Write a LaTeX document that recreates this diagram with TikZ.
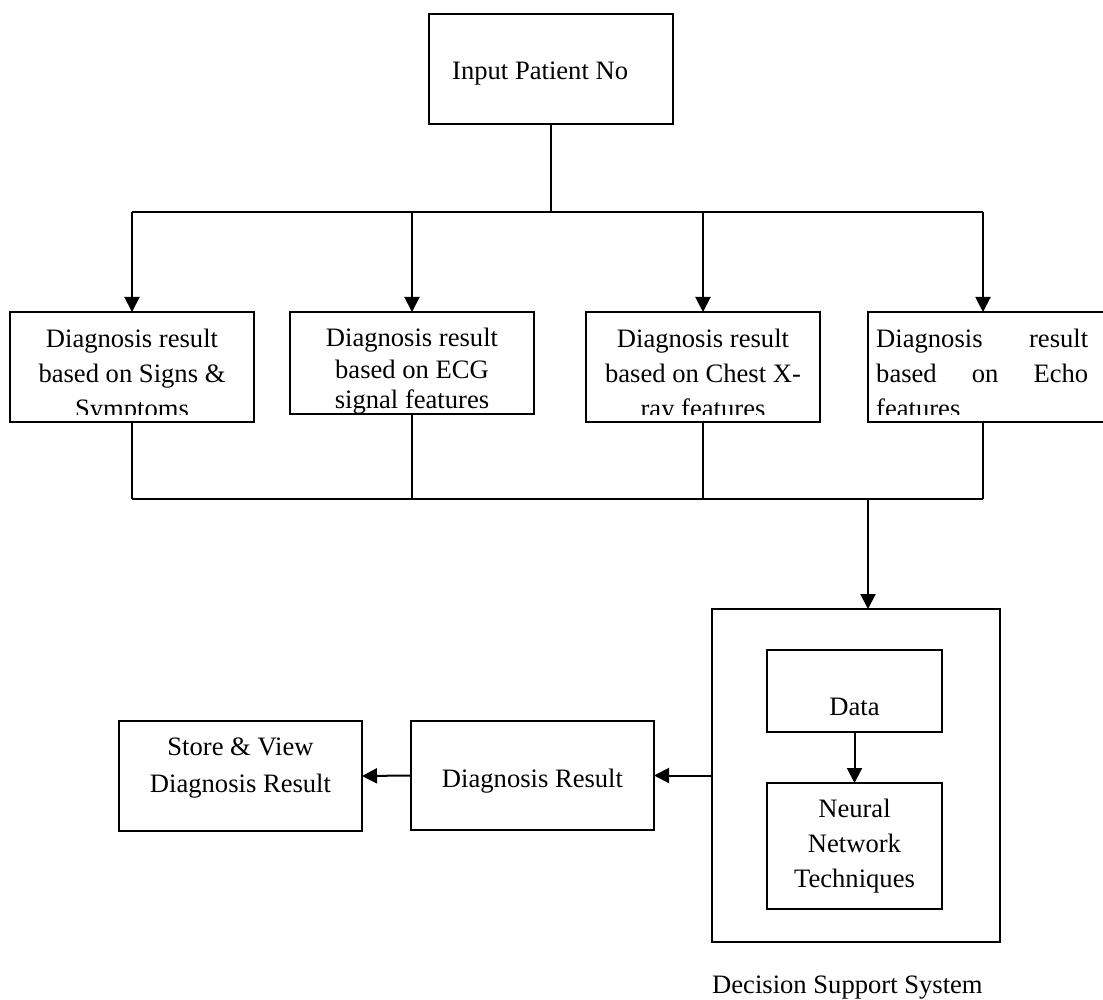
\documentclass[tikz,border=0pt]{standalone}
\usepackage{fontspec}
\setmainfont{Liberation Serif}
\usetikzlibrary{arrows.meta}
\begin{document}
\begin{tikzpicture}[x=1pt,y=-1pt,
  box/.style={draw, line width=2pt, inner sep=0pt, outer sep=0pt, anchor=north west},
  txt/.style={inner sep=0pt, font=\fontsize{26.6}{35}\selectfont},
  conn/.style={line width=2pt},
  arr/.style={line width=2pt, -{Triangle[length=15pt,width=15pt]}}]
\useasboundingbox (0,0) rectangle (1103,1000);
\fill[white] (0,0) rectangle (1103,1000);

% top box
\node[box, minimum width=244pt, minimum height=110pt] (top) at (429,14) {};
\node[txt, anchor=base west] (ttop) at (452,80) {Input Patient No};

% row of four boxes
\node[box, minimum width=244pt, minimum height=110pt] (b1) at (10,312) {};
\node[box, minimum width=244pt, minimum height=102pt] (b2) at (290,312) {};
\node[box, minimum width=234pt, minimum height=110pt] (b3) at (586,312) {};
\node[box, minimum width=238pt, minimum height=110pt] (b4) at (868,312) {};

\begin{scope}
\clip (10,312) rectangle (254,414);
\node[txt, anchor=base] (t1a) at (132,347) {Diagnosis result};
\node[txt, anchor=base] (t1b) at (132,382) {based on Signs \&};
\node[txt, anchor=base] (t1c) at (132,417) {Symptoms};
\end{scope}
\begin{scope}
\clip (290,312) rectangle (534,413);
\node[txt, anchor=base] (t2a) at (412,346) {Diagnosis result};
\node[txt, anchor=base] (t2b) at (412,378) {based on ECG};
\node[txt, anchor=base] (t2c) at (412,408) {signal features};
\end{scope}
\begin{scope}
\clip (586,312) rectangle (820,414);
\node[txt, anchor=base] (t3a) at (703,347) {Diagnosis result};
\node[txt, anchor=base] (t3b) at (703,382) {based on Chest X-};
\node[txt, anchor=base] (t3c) at (703,417) {ray features};
\end{scope}
\begin{scope}
\clip (868,312) rectangle (1106,414);
\node[txt, anchor=base west] (t4a) at (876,347) {\makebox[212pt][s]{Diagnosis result}};
\node[txt, anchor=base west] (t4b) at (876,382) {\makebox[212pt][s]{based on Echo}};
\node[txt, anchor=base west] (t4c) at (876,417) {features};
\end{scope}

% upper bus
\coordinate (jt) at (551,212);
\coordinate (busL) at (132,212);
\coordinate (a2) at (412,212);
\coordinate (a3) at (703,212);
\coordinate (busR) at (983,212);
\draw[conn] (top.south) -- (jt);
\draw[conn] (busL) -- (busR);
\draw[arr] (busL) -- (busL |- b1.north);
\draw[arr] (a2) -- (a2 |- b2.north);
\draw[arr] (a3) -- (a3 |- b3.north);
\draw[arr] (busR) -- (busR |- b4.north);

% lower bus
\coordinate (bbL) at (132,499);
\coordinate (bbR) at (983,499);
\coordinate (dj) at (868,499);
\draw[conn] (bbL |- b1.south) -- (bbL);
\draw[conn] (b2.south) -- (b2.south |- bbL);
\draw[conn] (b3.south) -- (b3.south |- bbL);
\draw[conn] (bbR |- b4.south) -- (bbR);
\draw[conn] (bbL) -- (bbR);

% decision support system
\node[box, minimum width=288pt, minimum height=333pt] (dss) at (712,609) {};
\draw[arr] (dj) -- (dj |- dss.north);
\node[box, minimum width=175pt, minimum height=82pt] (data) at (767,650) {};
\node[txt, anchor=base] (tdata) at (854.5,715) {Data};
\node[box, minimum width=175pt, minimum height=126pt] (nn) at (767,783) {};
\node[txt, anchor=base] (tn1) at (854.5,817) {Neural};
\node[txt, anchor=base] (tn2) at (854.5,852) {Network};
\node[txt, anchor=base] (tn3) at (854.5,887) {Techniques};
\draw[arr] (data.south) -- (nn.north);
\node[txt, anchor=base west] (tdss) at (712,993) {Decision Support System};

% results
\node[box, minimum width=243pt, minimum height=109pt] (dr) at (411,721) {};
\node[txt, anchor=base] (tdr) at (532.5,787) {Diagnosis Result};
\node[box, minimum width=243pt, minimum height=110pt] (sv) at (119,721) {};
\node[txt, anchor=base] (tsv1) at (240.5,755) {Store \& View};
\node[txt, anchor=base] (tsv2) at (240.5,792) {Diagnosis Result};
\draw[arr] (dss.west |- dr.east) -- (dr.east);
\draw[arr] (dr.west) -- (sv.east);
\end{tikzpicture}
\end{document}
